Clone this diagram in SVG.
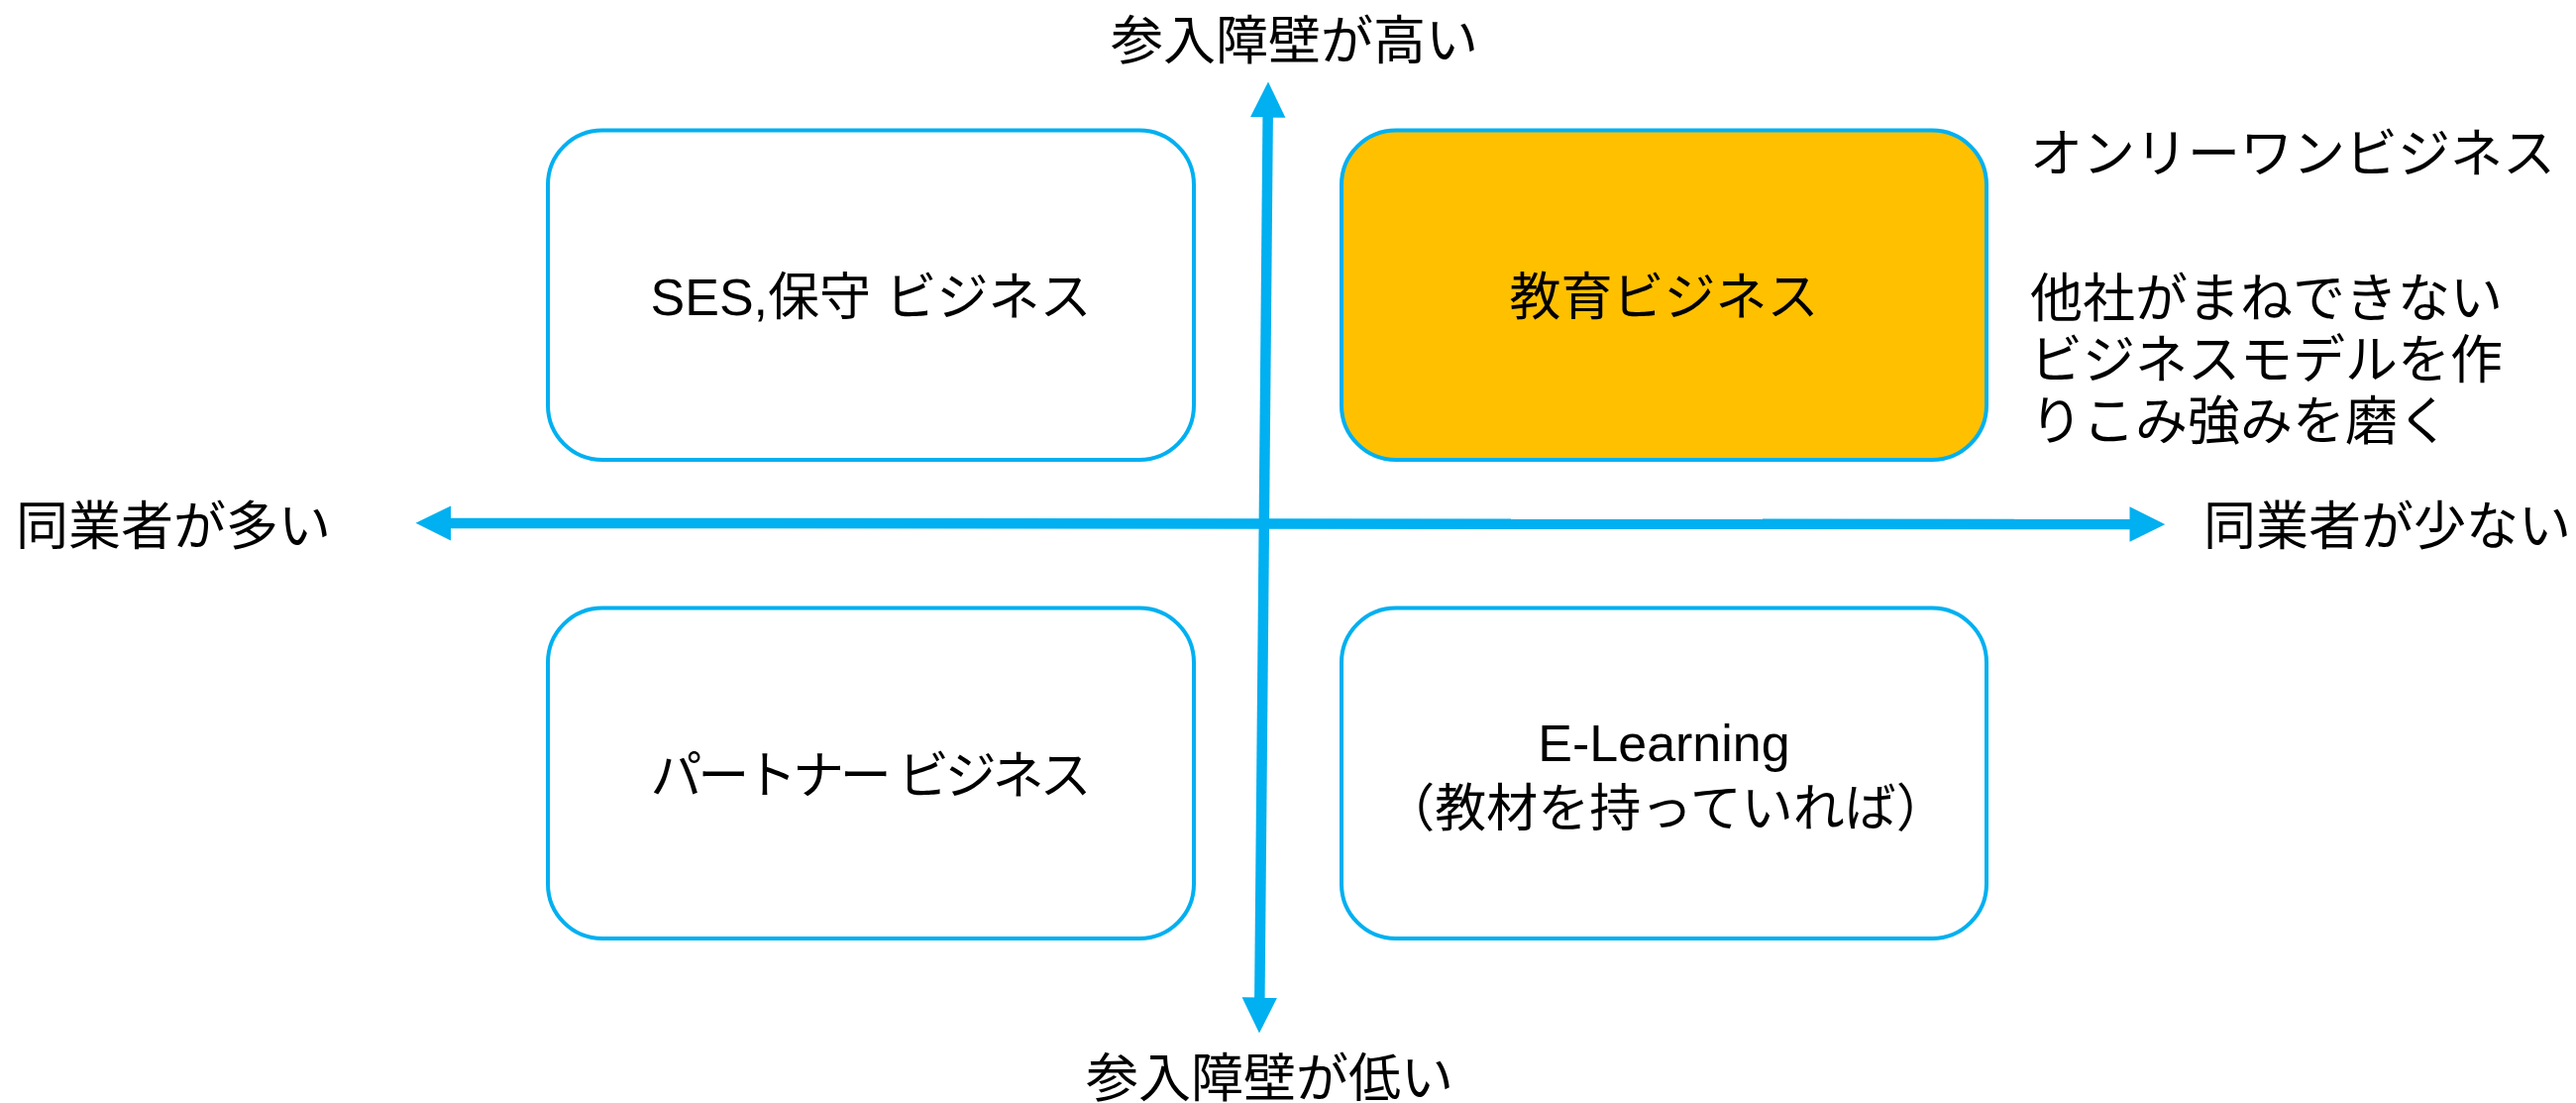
<svg xmlns="http://www.w3.org/2000/svg" width="2600" height="1113" viewBox="0 0 2600 1113">
<defs>
<style>
.box{fill:#FFFFFF;stroke:#00B0F0;stroke-width:4}
.hl{fill:#FFC000}
.t{font-family:"Liberation Sans","Noto Sans CJK JP",sans-serif;font-size:52px;fill:#000000}
.l{font-size:53px}
.c{text-anchor:middle}
.axis{stroke:#00B0F0;stroke-width:10.5;fill:none}
</style>
<marker id="ah" markerUnits="userSpaceOnUse" markerWidth="36" markerHeight="36" viewBox="0 0 36 35.5" refX="0.5" refY="17.75" orient="auto-start-reverse">
<path d="M0,0 L36,17.75 L0,35.5 Z" fill="#00B0F0"/>
</marker>
</defs>
<rect width="2600" height="1113" fill="#FFFFFF"/>
<g id="connectors">
<line class="axis" x1="455" y1="527.9" x2="2150" y2="529.1" marker-start="url(#ah)" marker-end="url(#ah)"/>
<line class="axis" x1="1279.66" y1="118" x2="1271.34" y2="1007" marker-start="url(#ah)" marker-end="url(#ah)"/>
</g>
<g id="node-ses">
<rect class="box" x="553" y="131.5" width="652" height="332.5" rx="55" ry="55"/>
<text class="t c" x="879" y="318">SES,保守 ビジネス</text>
</g>
<g id="node-education">
<rect class="box hl" x="1354" y="131.5" width="651" height="332.5" rx="55" ry="55"/>
<text class="t c" x="1679.5" y="318">教育ビジネス</text>
</g>
<g id="node-partner">
<rect class="box" x="553" y="613.5" width="652" height="333.5" rx="55" ry="55"/>
<text class="t c" x="879" y="801" textLength="445" lengthAdjust="spacing">パートナー ビジネス</text>
</g>
<g id="node-elearning">
<rect class="box" x="1354" y="613.5" width="651" height="333.5" rx="55" ry="55"/>
<text class="t c" x="1679.5" y="768">E-Learning</text>
<text class="t c" x="1681" y="834">（教材を持っていれば）</text>
</g>
<g id="label-top"><text class="t l" x="1121" y="60">参入障壁が高い</text></g>
<g id="label-bottom"><text class="t l" x="1096" y="1107">参入障壁が低い</text></g>
<g id="label-left"><text class="t l" x="16" y="550">同業者が多い</text></g>
<g id="label-right"><text class="t l" x="2224" y="550">同業者が少ない</text></g>
<g id="note-onlyone">
<text class="t l" x="2049" y="174">オンリーワンビジネス</text>
<text class="t l" x="2049" y="320">他社がまねできない</text>
<text class="t l" x="2049" y="382">ビジネスモデルを作</text>
<text class="t l" x="2049" y="444">りこみ強みを磨く</text>
</g>
</svg>
